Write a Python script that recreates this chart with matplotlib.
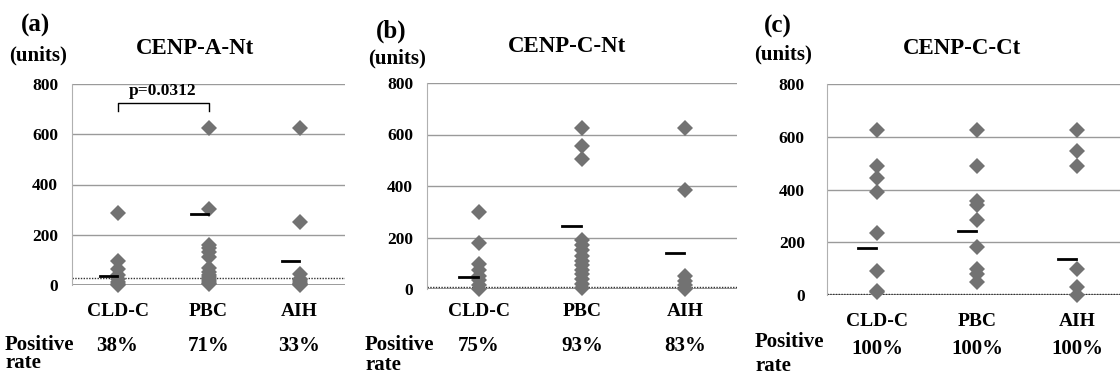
import numpy as np
import matplotlib
matplotlib.use('Agg')
import matplotlib.pyplot as plt

plt.rcParams['font.family'] = ['Liberation Serif', 'DejaVu Serif']
plt.rcParams['font.weight'] = 'bold'

groups = ['CLD-C', 'PBC', 'AIH']
titles = ['CENP-A-Nt', 'CENP-C-Nt', 'CENP-C-Ct']
letters = ['(a)', '(b)', '(c)']

# values (units)
a_cldc = [286, 95, 62, 38, 22, 12, 5, 0]
a_pbc = [625, 301, 160, 148, 133, 113, 66, 50, 40, 30, 22, 15, 8, 3]
a_aih = [625, 252, 45, 25, 18, 10, 5, 2, 0]
b_cldc = [300, 178, 97, 72, 52, 35, 15, 0]
b_pbc = [625, 555, 505, 190, 170, 150, 130, 110, 92, 75, 57, 38, 18, 3]
b_aih = [625, 383, 50, 30, 15, 0]
c_cldc = [625, 490, 445, 390, 235, 92, 17, 10]
c_pbc = [625, 490, 355, 340, 283, 182, 97, 78, 48]
c_aih = [625, 545, 488, 97, 32, 0]

# short black bars
a_bar = [36, 281, 96]
b_bar = [45, 243, 139]
c_bar = [180, 244, 135]

cutoffs = [27, 7, 2]
pos_a = ['38%', '71%', '33%']
pos_b = ['75%', '93%', '83%']
pos_c = ['100%', '100%', '100%']

panels = [
    ([a_cldc, a_pbc, a_aih], a_bar, pos_a),
    ([b_cldc, b_pbc, b_aih], b_bar, pos_b),
    ([c_cldc, c_pbc, c_aih], c_bar, pos_c),
]

W, H = 1120, 376
fig = plt.figure(figsize=(W / 100, H / 100), dpi=100)

def fx(x):
    return x / W

def fy(y):
    return 1 - y / H

# axes boxes in pixels: left, right, top, bottom
boxes = [(72, 345, 84, 285), (427, 737, 83, 289), (827, 1127, 84, 295)]
# text positions in pixels
letter_xy = [(36, 25), (391, 31), (778, 26)]
units_xy = [(38, 55), (397, 58), (783, 54)]
title_xy = [(195, 48), (567, 46), (962, 49)]
cat_y = [311, 312, 321]
pct_y = [346, 346, 349]
posi_x = [5, 365, 755]
posi_y = [345, 345, 342]
rate_y = [363, 365, 366]

for i, (data, bars, pcts) in enumerate(panels):
    l, r, t, b = boxes[i]
    ax = fig.add_axes([fx(l), fy(b), fx(r - l), fy(t) - fy(b)])
    ax.set_xlim(0, 3)
    ax.set_ylim(0, 800)
    xs = np.arange(3) + 0.5
    for j, vals in enumerate(data):
        ax.plot([xs[j]] * len(vals), vals, 'D', color='#727272',
                markersize=8.5, markeredgewidth=0, clip_on=False, zorder=3)
        ax.plot([xs[j] - 0.19, xs[j] - 0.01], [bars[j], bars[j]],
                color='black', lw=2, zorder=4, clip_on=False)
    for yv in [200, 400, 600, 800]:
        ax.axhline(yv, color='#9a9a9a', lw=1, zorder=1)
    ax.axhline(0, color='#8a8a8a', lw=1.2, zorder=1)
    ax.axhline(cutoffs[i], color='#333333', lw=1, ls=(0, (1, 1)), zorder=2)
    ax.set_yticks([0, 200, 400, 600, 800])
    ax.tick_params(axis='y', length=0, pad=10 if i < 2 else 16, labelsize=12.5)
    ax.set_xticks([])
    for s in ['top', 'right', 'bottom']:
        ax.spines[s].set_visible(False)
    ax.spines['left'].set_color('#b0b0b0')
    ax.patch.set_alpha(0)

    if i == 0:
        yb, yl = 725, 694
        ax.plot([xs[0], xs[0], xs[1], xs[1]], [yl, yb, yb, yl],
                color='black', lw=1, clip_on=False)
        ax.text((xs[0] + xs[1]) / 2, 742, 'p=0.0312', ha='center',
                va='bottom', fontsize=12.5)

    fig.text(fx(letter_xy[i][0]), fy(letter_xy[i][1]), letters[i],
             ha='center', va='center', fontsize=18)
    fig.text(fx(units_xy[i][0]), fy(units_xy[i][1]), '(units)',
             ha='center', va='center', fontsize=15)
    fig.text(fx(title_xy[i][0]), fy(title_xy[i][1]), titles[i],
             ha='center', va='center', fontsize=16.5)
    for j, g in enumerate(groups):
        px = l + (r - l) * xs[j] / 3
        fig.text(fx(px), fy(cat_y[i]), g, ha='center', va='center',
                 fontsize=14)
        fig.text(fx(px), fy(pct_y[i]), pcts[j], ha='center', va='center',
                 fontsize=15)
    fig.text(fx(posi_x[i]), fy(posi_y[i]), 'Positive', ha='left',
             va='center', fontsize=15)
    fig.text(fx(posi_x[i]), fy(rate_y[i]), 'rate', ha='left',
             va='center', fontsize=15)

fig.savefig('out.png', dpi=100)
